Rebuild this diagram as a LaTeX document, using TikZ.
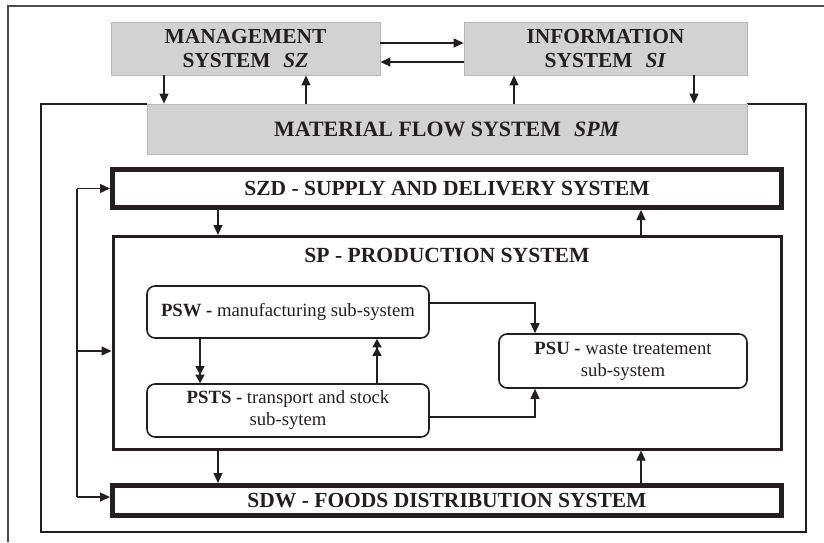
\documentclass[tikz,border=0pt]{standalone}
\usepackage{fontspec}
\setmainfont{Liberation Serif}
\usetikzlibrary{arrows.meta}
\definecolor{ink}{HTML}{231F20}
\begin{document}
\begin{tikzpicture}[x=1pt,y=-1pt,
  every node/.style={text=ink},
  graybox/.style={draw=gray!55, fill=gray!35, line width=0.8pt, inner sep=0pt, align=center,
    font=\bfseries\fontsize{21.4}{24}\selectfont},
  thickbox/.style={draw=ink, line width=5pt, inner sep=0pt, align=center,
    font=\bfseries\fontsize{21.5}{24}\selectfont},
  prodbox/.style={draw=ink, line width=3pt, inner sep=0pt},
  subbox/.style={draw=ink, line width=1.6pt, rounded corners=8pt, inner sep=0pt, align=center,
    font=\fontsize{18.7}{22}\selectfont},
  arr/.style={draw=ink, line width=1.3pt, -{Triangle[length=10pt,width=9pt]}},
  darr/.style={draw=ink, line width=1.3pt, -{Triangle[length=8.5pt,width=9pt]Triangle[length=8.5pt,width=9pt]}},
  ln/.style={draw=ink, line width=1.3pt},
  frame/.style={draw=ink, line width=2.5pt}
]
\useasboundingbox (0,0) rectangle (824,542);
% outer cropped frame
\draw[draw=ink!80, line width=2pt] (8,542) -- (8,6) -- (824,6);

% top system boxes
\node[graybox, minimum width=269pt, minimum height=53pt] (mgmt) at (245.5,48.5)
  {MANAGEMENT\\SYSTEM\hspace{0.6em}\textit{SZ}};
\node[graybox, minimum width=283pt, minimum height=53pt] (info) at (605.5,48.5)
  {INFORMATION\\SYSTEM\hspace{0.6em}\textit{SI}};

% inner frame
\coordinate (f1) at (41,104);
\coordinate (f2) at (806,532);
\draw[frame] (147,104) -- (f1) |- (f2) |- (747,104);

\node[graybox, font=\bfseries\fontsize{21.9}{24}\selectfont, minimum width=600pt, minimum height=50pt] (spm) at (447,129)
  {MATERIAL FLOW SYSTEM\hspace{0.6em}\textit{SPM}};

% subsystems
\node[thickbox, minimum width=669pt, minimum height=38pt] (szd) at (447,188.5)
  {SZD - SUPPLY AND DELIVERY SYSTEM};
\node[prodbox, minimum width=668pt, minimum height=212.5pt] (sp) at (447,342.75) {};
\node[font=\bfseries\fontsize{21.6}{24}\selectfont] (sptitle) at (447,255) {SP - PRODUCTION SYSTEM};
\node[thickbox, minimum width=669pt, minimum height=30pt] (sdw) at (447,500.5)
  {SDW - FOODS DISTRIBUTION SYSTEM};

\node[subbox, minimum width=282pt, minimum height=52pt] (psw) at (288,312)
  {\textbf{PSW -} manufacturing sub-system};
\node[subbox, minimum width=282pt, minimum height=53pt] (psts) at (288,410.5)
  {\textbf{PSTS -} transport and stock\\sub-sytem};
\node[subbox, minimum width=248pt, minimum height=54pt] (psu) at (623,361)
  {\textbf{PSU -} waste treatement\\sub-system};

% arrows between top boxes
\draw[arr] (mgmt.east |- 0,43) -- (info.west |- 0,43);
\draw[arr] (info.west |- 0,62) -- (mgmt.east |- 0,62);
\draw[arr] (mgmt.south -| 164,0) -- (spm.north -| 164,0);
\draw[arr] (spm.north -| 306,0) -- (mgmt.south -| 306,0);
\draw[arr] (spm.north -| 514,0) -- (info.south -| 514,0);
\draw[arr] (info.south -| 694,0) -- (spm.north -| 694,0);

% szd / sp / sdw
\draw[arr] (szd.south -| 218,0) -- (sp.north -| 218,0);
\draw[arr] (sp.north -| 641,0) -- (szd.south -| 641,0);
\draw[arr] (sp.south -| 218,0) -- (sdw.north -| 218,0);
\draw[arr] (sdw.north -| 641,0) -- (sp.south -| 641,0);

% inner subsystems
\draw[darr] (psw.south -| 200,0) -- (psts.north -| 200,0);
\draw[darr] (psts.north -| 377,0) -- (psw.south -| 377,0);
\draw[arr] (psw.east |- 0,303) -| (psu.north -| 535,0);
\draw[arr] (psts.east |- 0,417) -| (psu.south -| 535,0);

% left feedback line
\coordinate (fb1) at (77,188.5);
\coordinate (fb2) at (77,351);
\coordinate (fb3) at (77,497);
\draw[ln] (fb1) -- (fb3);
\draw[arr] (fb1) -- (szd.west |- fb1);
\draw[arr] (fb2) -- (sp.west |- fb2);
\draw[arr] (fb3) -- (sdw.west |- fb3);
\end{tikzpicture}
\end{document}
